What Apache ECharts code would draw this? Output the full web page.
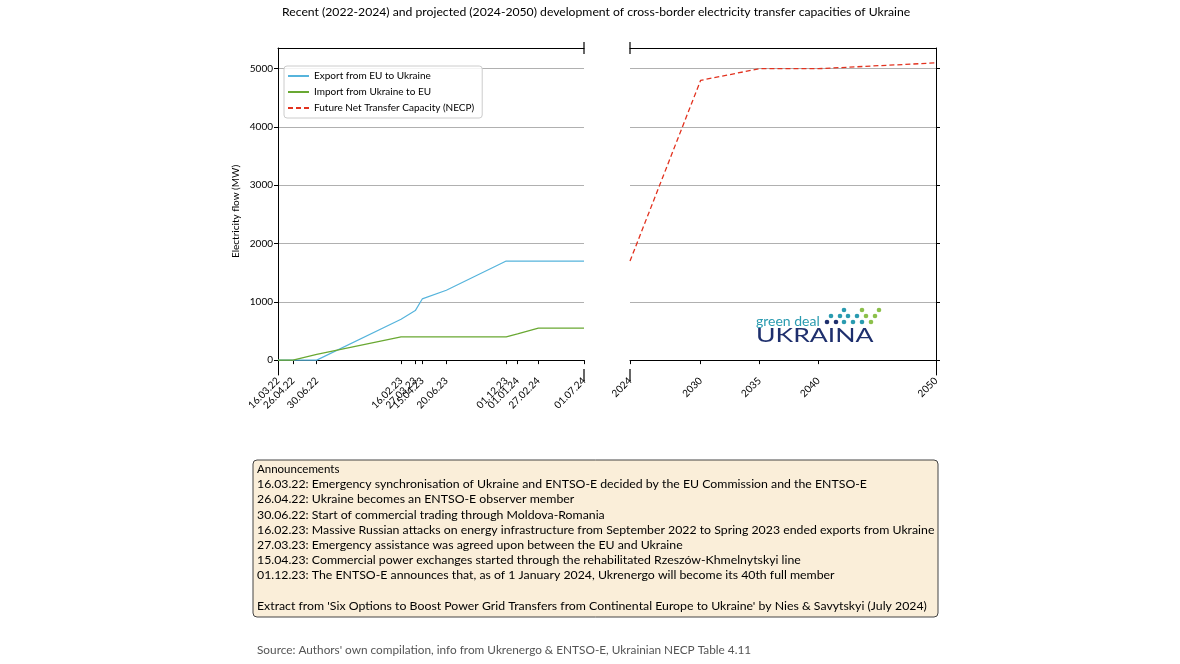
<!DOCTYPE html>
<html>
<head>
<meta charset="utf-8">
<script src="https://cdn.jsdelivr.net/npm/echarts@6/dist/echarts.min.js"></script>
<style>
  html, body { margin: 0; padding: 0; background: #fff; }
  #chart { width: 1180px; height: 664px; }
</style>
</head>
<body>
<div id="chart"></div>
<script>
// data
const dates = ['16.03.22', '26.04.22', '30.06.22', '16.02.23', '27.03.23', '15.04.23', '20.06.23', '01.12.23', '01.01.24', '27.02.24', '01.07.24'];
const exportEU = [0, 0, 0, 700, 850, 1050, 1200, 1700, 1700, 1700, 1700];
const importEU = [0, 0, 100, 400, 400, 400, 400, 400, 450, 550, 550];
const necpYears = [2024, 2030, 2035, 2040, 2050];
const necpValues = [1700, 4800, 5000, 5000, 5100];
const yTicks = [0, 1000, 2000, 3000, 4000, 5000];

const announcements = [
    '16.03.22: Emergency synchronisation of Ukraine and ENTSO-E decided by the EU Commission and the ENTSO-E',
    '26.04.22: Ukraine becomes an ENTSO-E observer member',
    '30.06.22: Start of commercial trading through Moldova-Romania',
    '16.02.23: Massive Russian attacks on energy infrastructure from September 2022 to Spring 2023 ended exports from Ukraine',
    '27.03.23: Emergency assistance was agreed upon between the EU and Ukraine',
    '15.04.23: Commercial power exchanges started through the rehabilitated Rzeszów-Khmelnytskyi line',
    '01.12.23: The ENTSO-E announces that, as of 1 January 2024, Ukrenergo will become its 40th full member'
];
const extractNote = "Extract from 'Six Options to Boost Power Grid Transfers from Continental Europe to Ukraine' by Nies & Savytskyi (July 2024)";

const FONT = 'Lato';

function toTime(s) {
    const [d, m, y] = s.split('.').map(Number);
    return Date.UTC(2000 + y, m - 1, d);
}
function fmtDate(v) {
    const dt = new Date(v);
    const p = n => String(n).padStart(2, '0');
    return p(dt.getUTCDate()) + '.' + p(dt.getUTCMonth() + 1) + '.' + p(dt.getUTCFullYear() % 100);
}
const plain = v => String(v);

const dateTimes = dates.map(toTime);
const yMin = -255, yMax = 5355;

// panel geometry
const P1 = { left: 278, top: 48, width: 306, height: 327 };
const P2 = { left: 630, top: 48, width: 306, height: 327 };

const axisLineStyle = { color: '#000', width: 1 };
const gridLine = { show: true, lineStyle: { color: '#b0b0b0', width: 1 } };

function breakMark(x, y) {
    return { type: 'line', shape: { x1: x, y1: y - 6, x2: x, y2: y + 6 }, style: { stroke: '#000', lineWidth: 1.2 } };
}

// logo dots: [dx, dy, colour] relative to logo origin
const teal = '#2a9bb0', lime = '#8cc04b', navy = '#1e2f6d';
const logoDots = [
    [88, -11, teal], [106, -11, lime], [123, -11, lime],
    [75, -5, teal], [84, -5, teal], [92, -5, teal], [101, -5, teal], [110, -5, lime], [119, -5, lime],
    [71, 1, navy], [80, 1, navy], [88, 1, teal], [97, 1, teal], [106, 1, teal], [115, 1, lime]
];
const logoX = 756, logoY = 321;

const chart = echarts.init(document.getElementById('chart'));

const option = {
    animation: false,
    backgroundColor: '#fff',
    textStyle: { fontFamily: FONT },
    title: [
        {
            text: 'Recent (2022-2024) and projected (2024-2050) development of cross-border electricity transfer capacities of Ukraine',
            left: 282,
            top: 6,
            padding: 0,
            textStyle: { fontFamily: FONT, fontSize: 12.2, fontWeight: 'normal', color: '#000' }
        },
        {
            text: "Source: Authors' own compilation, info from Ukrenergo & ENTSO-E, Ukrainian NECP Table 4.11",
            left: 257,
            top: 644,
            padding: 0,
            textStyle: { fontFamily: FONT, fontSize: 11.8, fontWeight: 'normal', color: '#555' }
        }
    ],
    legend: {
        orient: 'vertical',
        left: 284,
        top: 66,
        padding: [5, 8, 5, 3],
        itemWidth: 21,
        itemHeight: 10,
        itemGap: 6,
        itemStyle: { opacity: 0 },
        backgroundColor: 'rgba(255,255,255,0.85)',
        borderColor: '#cccccc',
        borderWidth: 1,
        borderRadius: 3,
        textStyle: { fontFamily: FONT, fontSize: 10, color: '#000' },
        data: ['Export from EU to Ukraine', 'Import from Ukraine to EU', 'Future Net Transfer Capacity (NECP)']
    },
    grid: [
        { left: P1.left, top: P1.top, width: P1.width, height: P1.height },
        { left: P2.left, top: P2.top, width: P2.width, height: P2.height }
    ],
    xAxis: [
        {
            gridIndex: 0, type: 'value', position: 'bottom',
            min: dateTimes[0], max: dateTimes[dateTimes.length - 1],
            axisLine: { lineStyle: axisLineStyle },
            axisTick: { customValues: dateTimes, length: 4, lineStyle: { color: '#000' } },
            axisLabel: {
                customValues: dateTimes, rotate: 45, margin: 4,
                fontSize: 10, color: '#000', formatter: fmtDate
            },
            splitLine: { show: false }
        },
        {
            gridIndex: 0, type: 'value', position: 'top',
            min: dateTimes[0], max: dateTimes[dateTimes.length - 1],
            axisLine: { lineStyle: axisLineStyle },
            axisTick: { show: false }, axisLabel: { show: false }, splitLine: { show: false }
        },
        {
            gridIndex: 1, type: 'value', position: 'bottom',
            min: necpYears[0], max: necpYears[necpYears.length - 1],
            axisLine: { lineStyle: axisLineStyle },
            axisTick: { customValues: necpYears, length: 4, lineStyle: { color: '#000' } },
            axisLabel: { customValues: necpYears, rotate: 45, margin: 4, fontSize: 10, color: '#000', formatter: plain },
            splitLine: { show: false }
        },
        {
            gridIndex: 1, type: 'value', position: 'top',
            min: necpYears[0], max: necpYears[necpYears.length - 1],
            axisLine: { lineStyle: axisLineStyle },
            axisTick: { show: false }, axisLabel: { show: false }, splitLine: { show: false }
        }
    ],
    yAxis: [
        {
            gridIndex: 0, type: 'value', position: 'left',
            min: yMin, max: yMax,
            name: 'Electricity flow (MW)', nameLocation: 'middle', nameGap: 37, nameRotate: 90,
            nameTextStyle: { fontFamily: FONT, fontSize: 10, color: '#000' },
            axisLine: { show: true, lineStyle: axisLineStyle },
            axisTick: { show: true, customValues: yTicks, length: 4, lineStyle: { color: '#000' } },
            axisLabel: { customValues: yTicks, fontSize: 10, color: '#000', margin: 5, formatter: plain },
            splitLine: gridLine
        },
        {
            gridIndex: 1, type: 'value', position: 'right',
            min: yMin, max: yMax,
            axisLine: { show: true, lineStyle: axisLineStyle },
            axisTick: { show: true, customValues: yTicks, length: 4, lineStyle: { color: '#000' } },
            axisLabel: { show: false, customValues: yTicks },
            splitLine: gridLine
        }
    ],
    series: [
        {
            name: 'Export from EU to Ukraine', type: 'line',
            xAxisIndex: 0, yAxisIndex: 0, symbol: 'none',
            lineStyle: { color: '#56b4dc', width: 1.2 }, itemStyle: { color: '#56b4dc' },
            data: dateTimes.map((t, i) => [t, exportEU[i]])
        },
        {
            name: 'Import from Ukraine to EU', type: 'line',
            xAxisIndex: 0, yAxisIndex: 0, symbol: 'none',
            lineStyle: { color: '#69a832', width: 1.2 }, itemStyle: { color: '#69a832' },
            data: dateTimes.map((t, i) => [t, importEU[i]])
        },
        {
            name: 'Future Net Transfer Capacity (NECP)', type: 'line',
            xAxisIndex: 2, yAxisIndex: 1, symbol: 'none',
            lineStyle: { color: '#e2321f', width: 1.3, type: [5, 3] }, itemStyle: { color: '#e2321f' },
            data: necpYears.map((y, i) => [y, necpValues[i]])
        }
    ],
    graphic: [
        // broken-axis markers
        breakMark(P1.left + P1.width, P1.top),
        breakMark(P1.left + P1.width, P1.top + P1.height),
        breakMark(P2.left, P2.top),
        breakMark(P2.left, P2.top + P2.height),
        // logo
        {
            type: 'group', x: logoX, y: logoY,
            children: [
                {
                    type: 'text', x: 0, y: 0,
                    style: { text: 'green deal', font: '14px ' + FONT, fill: teal, textVerticalAlign: 'middle' }
                },
                {
                    type: 'text', x: 0, y: 15, scaleX: 1.4,
                    style: { text: 'UKRAINA', font: '19px ' + FONT, fill: navy, textVerticalAlign: 'middle' }
                }
            ].concat(logoDots.map(d => ({
                type: 'circle', shape: { cx: d[0], cy: d[1], r: 2.3 }, style: { fill: d[2] }
            })))
        },
        // announcements box
        {
            type: 'rect',
            shape: { x: 253, y: 460, width: 685, height: 157, r: 4 },
            style: { fill: '#faeed9', stroke: '#444', lineWidth: 1 }
        },
        {
            type: 'text', x: 257, y: 461.5,
            style: {
                text: ['{h|Announcements}'].concat(announcements.map(s => '{t|' + s + '}'), ['{t| }', '{t|' + extractNote + '}']).join('\n'),
                rich: {
                    h: { fontFamily: FONT, fontSize: 11.5, lineHeight: 15.2, fill: '#000' },
                    t: { fontFamily: FONT, fontSize: 12.3, lineHeight: 15.2, fill: '#000' }
                }
            }
        }
    ]
};

chart.setOption(option);
</script>
</body>
</html>
